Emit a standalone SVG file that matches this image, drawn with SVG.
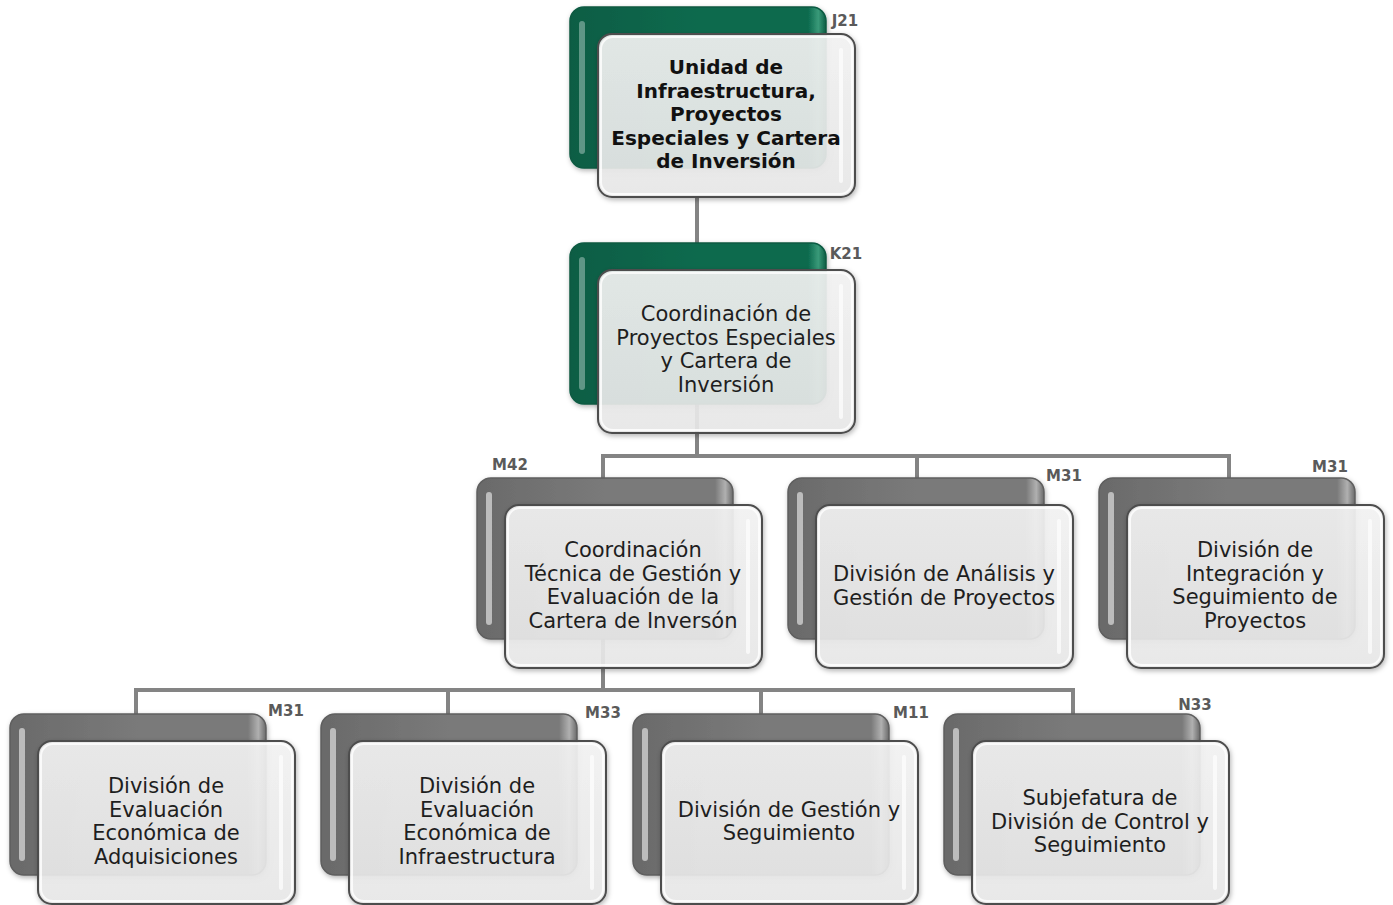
<svg xmlns="http://www.w3.org/2000/svg" xmlns:xlink="http://www.w3.org/1999/xlink" width="1393" height="905" viewBox="0 0 1393 905">
<defs>
<style>
.conn{fill:none;stroke:#848484;stroke-width:4;stroke-linejoin:miter}
.txt{font-family:"DejaVu Sans","Liberation Sans",sans-serif;font-size:21px;fill:#1e1e1e;text-anchor:middle}
.bold{font-weight:bold;font-size:20px;fill:#111}
.code{font-family:"DejaVu Sans","Liberation Sans",sans-serif;font-size:15px;font-weight:bold;fill:#5a5a5a;text-anchor:middle}
</style>
<linearGradient id="gGreen" x1="0" y1="0" x2="1" y2="0">
<stop offset="0" stop-color="#0a5d44"/>
<stop offset="0.5" stop-color="#0b6a4e"/>
<stop offset="0.93" stop-color="#0b6a4e"/>
<stop offset="0.97" stop-color="#3a9a79"/>
<stop offset="1" stop-color="#0a5c43"/>
</linearGradient>
<linearGradient id="gGray" x1="0" y1="0" x2="1" y2="0">
<stop offset="0" stop-color="#6a6a6a"/>
<stop offset="0.5" stop-color="#7a7a7a"/>
<stop offset="0.93" stop-color="#7a7a7a"/>
<stop offset="0.97" stop-color="#b0b0b0"/>
<stop offset="1" stop-color="#6a6a6a"/>
</linearGradient>
<linearGradient id="gFront" x1="0" y1="0" x2="0" y2="1">
<stop offset="0" stop-color="#f4f4f4"/>
<stop offset="1" stop-color="#e9e9e9"/>
</linearGradient>
<filter id="sh" x="-10%" y="-10%" width="125%" height="125%">
<feDropShadow dx="1" dy="2" stdDeviation="2.5" flood-color="#000" flood-opacity="0.3"/>
</filter>
<g id="backGreen">
<rect x="0" y="0" width="256" height="161" rx="14" fill="url(#gGreen)" stroke="#0a5a42" stroke-width="1.5"/>
<rect x="9" y="14" width="6" height="133" rx="3" fill="#ffffff" opacity="0.35"/>
</g>
<g id="backGray">
<rect x="0" y="0" width="256" height="161" rx="14" fill="url(#gGray)" stroke="#5f5f5f" stroke-width="1.5"/>
<rect x="9" y="14" width="6" height="133" rx="3" fill="#ffffff" opacity="0.55"/>
</g>
<g id="front">
<rect x="0" y="0" width="257" height="163" rx="14" fill="url(#gFront)" fill-opacity="0.9" stroke="#4d4d4d" stroke-width="2"/>
<rect x="3" y="3" width="251" height="157" rx="12" fill="none" stroke="#ffffff" stroke-width="2" opacity="0.8"/>
<rect x="241" y="14" width="4" height="135" rx="2" fill="#ffffff" opacity="0.7"/>
</g>
</defs>
<rect width="1393" height="905" fill="#ffffff"/>

<g id="connectors">
<path class="conn" d="M697,196 V456"/>
<path class="conn" d="M603,479 V456 H1229 V479"/>
<path class="conn" d="M917,456 V479"/>
<path class="conn" d="M603,456 V690"/>
<path class="conn" d="M136,714 V690 H1073 V714"/>
<path class="conn" d="M448,690 V714"/>
<path class="conn" d="M761,690 V714"/>
</g>

<g id="node-j21">
<use href="#backGreen" x="570" y="7" filter="url(#sh)"/>
<use href="#front" x="598" y="34" filter="url(#sh)"/>
<text class="txt bold" x="726"><tspan x="726" y="74">Unidad de</tspan><tspan x="726" y="97.5">Infraestructura,</tspan><tspan x="726" y="121">Proyectos</tspan><tspan x="726" y="144.5">Especiales y Cartera</tspan><tspan x="726" y="168">de Inversión</tspan></text>
<text class="code" x="845" y="26">J21</text>
</g>

<g id="node-k21">
<use href="#backGreen" x="570" y="243" filter="url(#sh)"/>
<use href="#front" x="598" y="270" filter="url(#sh)"/>
<text class="txt"><tspan x="726" y="321">Coordinación de</tspan><tspan x="726" y="344.5">Proyectos Especiales</tspan><tspan x="726" y="368">y Cartera de</tspan><tspan x="726" y="391.5">Inversión</tspan></text>
<text class="code" x="846" y="259">K21</text>
</g>

<g id="node-m42">
<use href="#backGray" x="477" y="478" filter="url(#sh)"/>
<use href="#front" x="505" y="505" filter="url(#sh)"/>
<text class="txt"><tspan x="633" y="557">Coordinación</tspan><tspan x="633" y="580.5">Técnica de Gestión y</tspan><tspan x="633" y="604">Evaluación de la</tspan><tspan x="633" y="627.5">Cartera de Inversón</tspan></text>
<text class="code" x="510" y="470">M42</text>
</g>

<g id="node-m31-analisis">
<use href="#backGray" x="788" y="478" filter="url(#sh)"/>
<use href="#front" x="816" y="505" filter="url(#sh)"/>
<text class="txt"><tspan x="944" y="581">División de Análisis y</tspan><tspan x="944" y="604.5">Gestión de Proyectos</tspan></text>
<text class="code" x="1064" y="481">M31</text>
</g>

<g id="node-m31-integracion">
<use href="#backGray" x="1099" y="478" filter="url(#sh)"/>
<use href="#front" x="1127" y="505" filter="url(#sh)"/>
<text class="txt"><tspan x="1255" y="557">División de</tspan><tspan x="1255" y="580.5">Integración y</tspan><tspan x="1255" y="604">Seguimiento de</tspan><tspan x="1255" y="627.5">Proyectos</tspan></text>
<text class="code" x="1330" y="472">M31</text>
</g>

<g id="node-m31-adquisiciones">
<use href="#backGray" x="10" y="714" filter="url(#sh)"/>
<use href="#front" x="38" y="741" filter="url(#sh)"/>
<text class="txt"><tspan x="166" y="793">División de</tspan><tspan x="166" y="816.5">Evaluación</tspan><tspan x="166" y="840">Económica de</tspan><tspan x="166" y="863.5">Adquisiciones</tspan></text>
<text class="code" x="286" y="716">M31</text>
</g>

<g id="node-m33">
<use href="#backGray" x="321" y="714" filter="url(#sh)"/>
<use href="#front" x="349" y="741" filter="url(#sh)"/>
<text class="txt"><tspan x="477" y="793">División de</tspan><tspan x="477" y="816.5">Evaluación</tspan><tspan x="477" y="840">Económica de</tspan><tspan x="477" y="863.5">Infraestructura</tspan></text>
<text class="code" x="603" y="718">M33</text>
</g>

<g id="node-m11">
<use href="#backGray" x="633" y="714" filter="url(#sh)"/>
<use href="#front" x="661" y="741" filter="url(#sh)"/>
<text class="txt"><tspan x="789" y="816.5">División de Gestión y</tspan><tspan x="789" y="840">Seguimiento</tspan></text>
<text class="code" x="911" y="718">M11</text>
</g>

<g id="node-n33">
<use href="#backGray" x="944" y="714" filter="url(#sh)"/>
<use href="#front" x="972" y="741" filter="url(#sh)"/>
<text class="txt"><tspan x="1100" y="805">Subjefatura de</tspan><tspan x="1100" y="828.5">División de Control y</tspan><tspan x="1100" y="852">Seguimiento</tspan></text>
<text class="code" x="1195" y="710">N33</text>
</g>
</svg>
